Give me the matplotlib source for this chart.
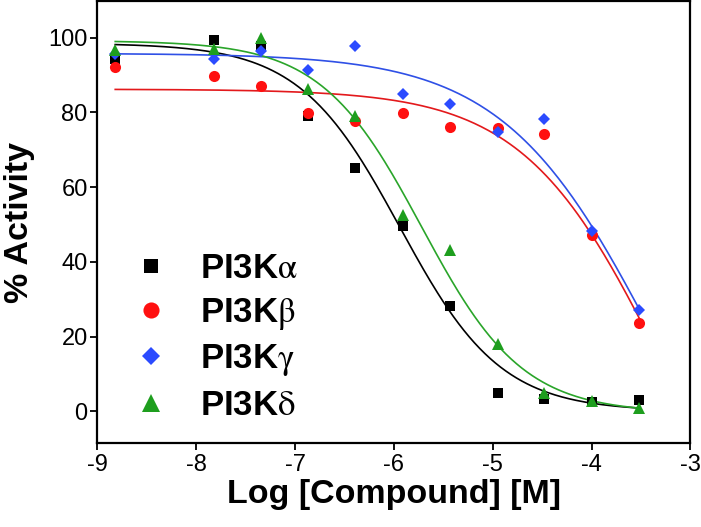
import numpy as np
import matplotlib
matplotlib.use("Agg")
import matplotlib.pyplot as plt

plt.rcParams['font.family'] = ['Liberation Sans', 'DejaVu Sans']
plt.rcParams['mathtext.fontset'] = 'stix'

# Log concentration (M)
log_conc = [-8.82, -7.82, -7.35, -6.87, -6.39, -5.91, -5.43, -4.95, -4.48, -4.00, -3.52]

# % activity per isoform
pi3k_alpha = [94.4, 99.4, 97.9, 79.1, 65.1, 49.5, 28.1, 5.0, 3.4, 2.5, 2.9]
pi3k_beta = [92.2, 89.7, 87.1, 79.9, 77.8, 79.9, 76.2, 75.7, 74.2, 47.2, 23.6]
pi3k_gamma = [95.6, 94.3, 96.5, 91.3, 97.9, 85.0, 82.2, 74.7, 78.3, 48.2, 27.2]
pi3k_delta = [96.7, 97.0, 99.8, 86.2, 78.9, 52.6, 43.2, 18.1, 5.0, 2.7, 1.0]

labels = [r'PI3K$\mathrm{\alpha}$', r'PI3K$\mathrm{\beta}$',
          r'PI3K$\mathrm{\gamma}$', r'PI3K$\mathrm{\delta}$']

# four-parameter logistic fit parameters (top, bottom, logIC50, Hill slope)
fit_top = [98.5, 86.2, 95.8, 99.2]
fit_bottom = [0.0, -60.0, -60.0, -0.5]
fit_logic50 = [-5.94, -3.29, -3.33, -5.72]
fit_hill = [0.85, 0.62, 0.56, 0.85]

series = [pi3k_alpha, pi3k_beta, pi3k_gamma, pi3k_delta]
markers = ['s', 'o', 'D', '^']
msizes = [7.0, 8.0, 6.3, 9.0]
marker_colors = ['#000000', '#ff1010', '#2b4bff', '#1e9e1e']
line_colors = ['#000000', '#e3191c', '#2f50e6', '#2aa52a']

fig = plt.figure(figsize=(7.01, 5.27), dpi=100)
ax = fig.add_axes([0.139, 0.1594, 0.846, 0.8386])

xs = np.linspace(min(log_conc), max(log_conc), 300)
handles = []
for i in range(4):
    yfit = fit_bottom[i] + (fit_top[i] - fit_bottom[i]) / (
        1 + 10 ** ((xs - fit_logic50[i]) * fit_hill[i]))
    ax.plot(xs, yfit, color=line_colors[i], lw=1.2, zorder=2 + i)
    h, = ax.plot(log_conc, series[i], linestyle='none', marker=markers[i],
                 markersize=msizes[i], color=marker_colors[i],
                 markeredgewidth=0, zorder=6 + i, label=labels[i])
    handles.append(h)

ax.set_xlim(-9, -3)
ax.set_ylim(-8.5, 109.8)
ax.set_xticks([-9, -8, -7, -6, -5, -4, -3])
ax.set_xticklabels(['-9', '-8', '-7', '-6', '-5', '-4', '-3'])
ax.set_yticks([0, 20, 40, 60, 80, 100])

for sp in ax.spines.values():
    sp.set_linewidth(1.6)
ax.tick_params(axis='both', direction='out', length=5, width=1.3, labelsize=17)
ax.tick_params(axis='x', pad=3)
ax.tick_params(axis='y', pad=2)

ax.set_xlabel('Log [Compound] [M]', fontsize=24.5, fontweight='bold', labelpad=2)
ax.set_ylabel('% Activity', fontsize=24.5, fontweight='bold', labelpad=9.5)

leg = ax.legend(handles=handles, loc='upper left', bbox_to_anchor=(0.061, 0.432),
                frameon=False, handlelength=1.0, handletextpad=0.91,
                labelspacing=0.305, borderpad=0, borderaxespad=0, markerscale=1.45,
                prop={'weight': 'bold', 'size': 25})

fig.savefig('out.png', dpi=100)
